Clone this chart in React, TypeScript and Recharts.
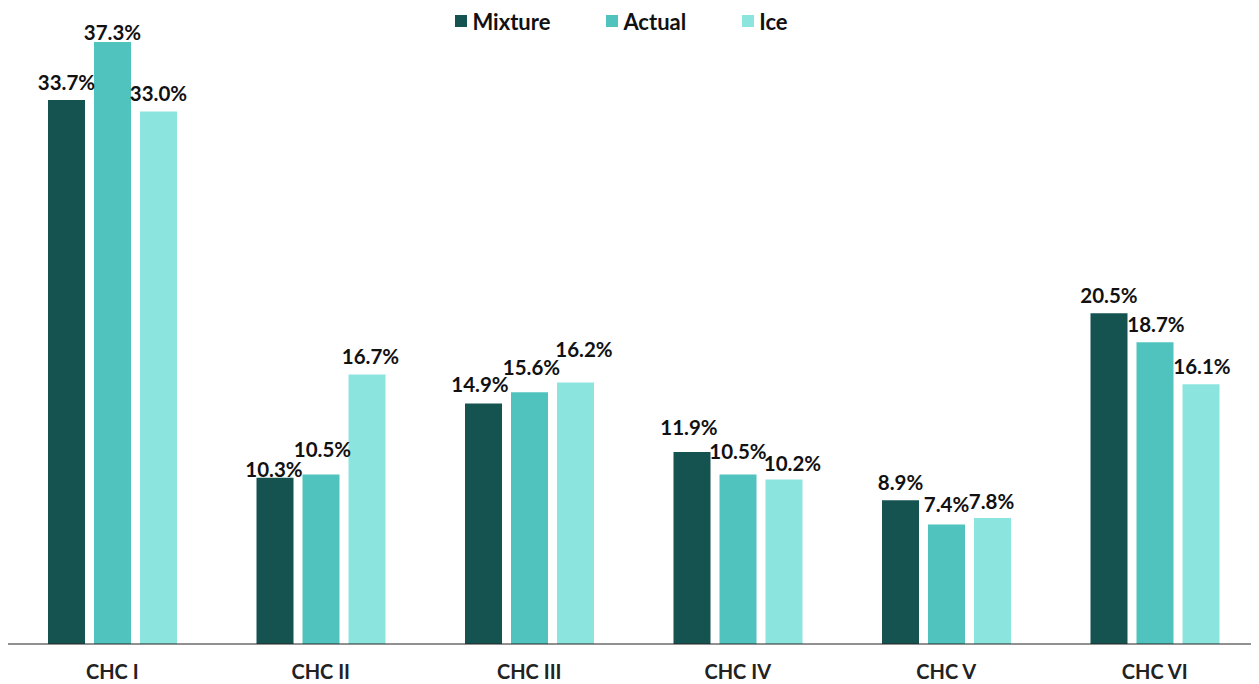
import React from 'react';
import { BarChart, Bar, XAxis, YAxis, Legend, LabelList } from 'recharts';

const categories = ['CHC I', 'CHC II', 'CHC III', 'CHC IV', 'CHC V', 'CHC VI'];
const mixture = [33.7, 10.3, 14.9, 11.9, 8.9, 20.5];
const actual = [37.3, 10.5, 15.6, 10.5, 7.4, 18.7];
const ice = [33.0, 16.7, 16.2, 10.2, 7.8, 16.1];

// small nudges so crowded labels don't sit on top of each other
const mixtureNudgeX = [0, -1, -3.5, -3, 0, 0];
const mixtureNudgeY = [0, -9, 1.5, 6.5, 0, 0];
const actualNudgeX = [0, 1.5, 2, 0, 0, 1];
const actualNudgeY = [-8, 8, 7.5, 5.5, 2.5, 0];
const iceNudgeX = [0, 3.5, 8.5, 8.5, -1, 1];
const iceNudgeY = [0, 0, 16, -1.5, -0.5, 0];

const seriesList = [
  { key: 'mixture', name: 'Mixture', color: '#155350', nx: mixtureNudgeX, ny: mixtureNudgeY },
  { key: 'actual', name: 'Actual', color: '#50c3be', nx: actualNudgeX, ny: actualNudgeY },
  { key: 'ice', name: 'Ice', color: '#8ce4de', nx: iceNudgeX, ny: iceNudgeY },
];

const data = categories.map((name, i) => ({
  name,
  mixture: mixture[i],
  actual: actual[i],
  ice: ice[i],
}));

const FONT = 'Lato, "Open Sans", sans-serif';

const renderLegend = () => (
  <div
    style={{
      display: 'flex',
      justifyContent: 'center',
      alignItems: 'center',
      height: 26,
      paddingRight: 24,
      fontFamily: FONT,
      fontWeight: 700,
      fontSize: 22,
      color: '#111',
    }}
  >
    {seriesList.map((s, i) => (
      <div key={s.key} style={{ display: 'flex', alignItems: 'center', marginLeft: i === 0 ? 0 : 56 }}>
        <span style={{ width: 12, height: 12, background: s.color, marginRight: 5, display: 'inline-block' }} />
        <span>{s.name}</span>
      </div>
    ))}
  </div>
);

const makeLabel = (nx: number[], ny: number[]) => (props: any) => {
  const { x, y, width, value, index } = props;
  return (
    <text
      x={Number(x) + Number(width) / 2 + (nx[index] || 0)}
      y={Number(y) - 10 - (ny[index] || 0)}
      textAnchor="middle"
      fill="#111"
      fontFamily={FONT}
      fontWeight={700}
      fontSize={20.5}
    >
      {`${Number(value).toFixed(1)}%`}
    </text>
  );
};

export default function App() {
  return (
    <BarChart
      width={1251}
      height={676}
      data={data}
      margin={{ top: 8, right: 0, left: 0, bottom: 8 }}
      barCategoryGap="19%"
      barGap={9}
    >
      <Legend verticalAlign="top" align="center" content={renderLegend} wrapperStyle={{ top: 0 }} />
      <XAxis
        dataKey="name"
        axisLine={{ stroke: '#222', strokeWidth: 1 }}
        tickLine={false}
        tickSize={6}
        tickMargin={15}
        height={32}
        tick={{ fill: '#222', fontFamily: FONT, fontWeight: 700, fontSize: 20 }}
      />
      <YAxis hide domain={[0, 37.3]} />
      {seriesList.map((s) => (
        <Bar key={s.key} dataKey={s.key} name={s.name} fill={s.color} barSize={37} isAnimationActive={false}>
          <LabelList dataKey={s.key} content={makeLabel(s.nx, s.ny)} />
        </Bar>
      ))}
    </BarChart>
  );
}
